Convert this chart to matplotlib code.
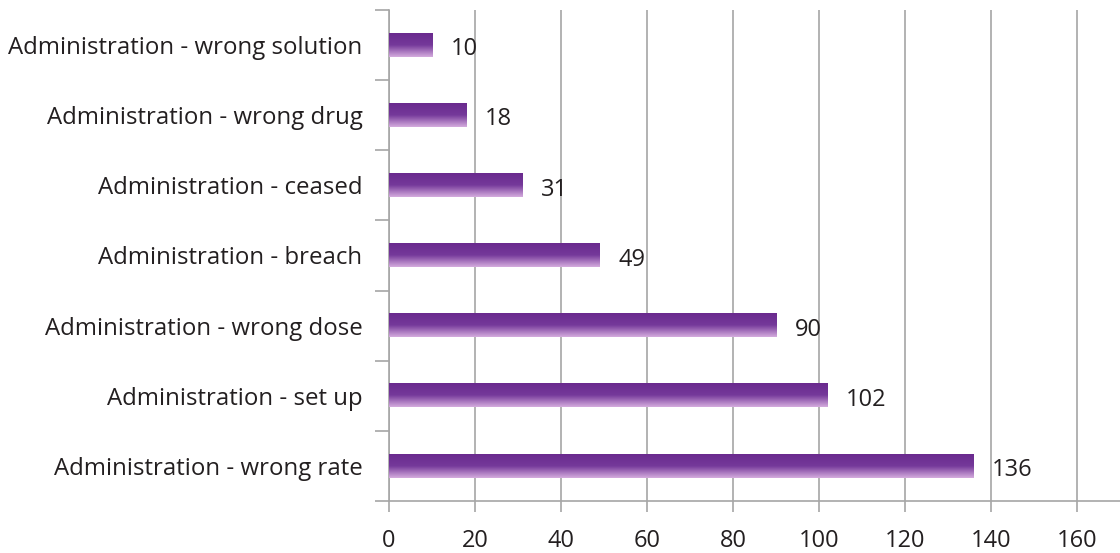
import numpy as np
import matplotlib.pyplot as plt
from matplotlib.colors import LinearSegmentedColormap

plt.rcParams['font.family'] = ['Open Sans', 'DejaVu Sans']

categories = ['Administration - wrong rate', 'Administration - set up',
              'Administration - wrong dose', 'Administration - breach',
              'Administration - ceased', 'Administration - wrong drug',
              'Administration - wrong solution']
values = [136, 102, 90, 49, 31, 18, 10]

# bar gradient: dark purple on top, lavender at the bottom
grad = LinearSegmentedColormap.from_list(
    'bar', [(0.0, '#d4abdd'), (0.5, '#75399a'), (1.0, '#6a2a8e')])

fig = plt.figure(figsize=(11.2, 5.53), dpi=100)
ax = fig.add_axes([0.3473, 0.094, 0.6527, 0.888])

barh = 0.33
ys = np.arange(len(categories))
g = np.linspace(0, 1, 64).reshape(-1, 1)
for y, v in zip(ys, values):
    ax.imshow(g, cmap=grad, aspect='auto', origin='lower',
              extent=(0, v, y - barh / 2, y + barh / 2), zorder=3)
    ax.text(v + 4.3, y - 0.06, str(v), va='center', ha='left',
            fontsize=17, color='#231f20', zorder=4)

ax.set_xlim(0, 170)
ax.set_ylim(-0.5, len(categories) - 0.5)
ax.set_xticks(np.arange(0, 161, 20))
ax.set_yticks(ys)
ax.set_yticklabels(categories)
ax.set_yticks(np.arange(-0.5, len(categories), 1), minor=True)

ax.grid(axis='x', color='#a6a6a6', lw=1.2, zorder=0)
for s in ['top', 'right']:
    ax.spines[s].set_visible(False)
for s in ['left', 'bottom']:
    ax.spines[s].set_color('#a6a6a6')
    ax.spines[s].set_linewidth(1.2)

ax.tick_params(axis='y', which='major', length=0, pad=19, labelsize=17.3,
               labelcolor='#231f20')
ax.tick_params(axis='y', which='minor', length=10, width=1.2, color='#a6a6a6')
ax.tick_params(axis='x', length=8, width=1.2, color='#a6a6a6', pad=12,
               labelsize=17, labelcolor='#231f20')

fig.savefig('out.png', dpi=100)
